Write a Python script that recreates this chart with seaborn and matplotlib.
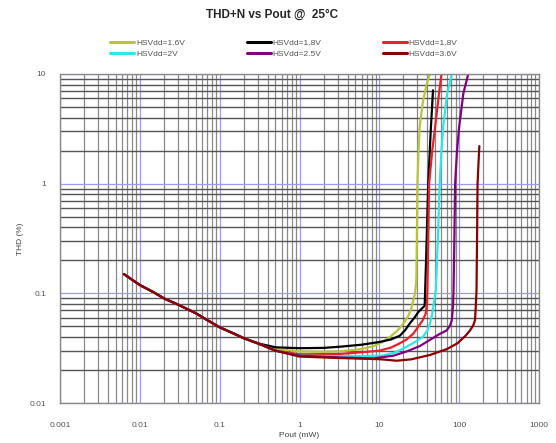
import matplotlib
matplotlib.use("Agg")
import matplotlib.pyplot as plt
import seaborn as sns
import pandas as pd

sns.set_theme(style="white")
plt.rcParams['font.family'] = ['Liberation Sans', 'DejaVu Sans']

title = "THD+N vs Pout @  25°C"
x_label = "Pout (mW)"
y_label = "THD (%)"
x_ticks = [0.001, 0.01, 0.1, 1, 10, 100, 1000]
x_tick_labels = ["0.001", "0.01", "0.1", "1", "10", "100", "1000"]
y_ticks = [0.01, 0.1, 1, 10]
y_tick_labels = ["0.01", "0.1", "1", "10"]

labels = ["HSVdd=1.6V", "HSVdd=2V", "HSVdd=1.8V", "HSVdd=2.5V", "HSVdd=1.8V", "HSVdd=3.6V"]
colors = ["#b8c43a", "#2ee6e6", "#000000", "#800080", "#e8202a", "#8b0000"]

# shared low-power segment, Pout (mW) and THD (%)
x_low = [0.0063, 0.008, 0.01, 0.015, 0.02, 0.03, 0.05, 0.07, 0.1, 0.15, 0.2, 0.3]
y_low = [0.15, 0.133, 0.119, 0.102, 0.09, 0.079, 0.066, 0.057, 0.049, 0.043, 0.039, 0.035]

x_16 = [0.5, 1, 2, 3.2, 6, 8.4, 11, 13.6, 17, 20, 23, 25, 26.7, 28, 29, 29.5, 30, 31, 32, 35, 39, 43]
y_16 = [0.031, 0.0295, 0.0293, 0.0296, 0.031, 0.033, 0.036, 0.040, 0.046, 0.053, 0.062, 0.072, 0.087, 0.1, 0.13, 0.3, 1.0, 2.0, 3.3, 5.5, 8, 10]

x_20 = [0.5, 1, 3.2, 11, 16, 22, 28, 35, 40, 43, 46, 48, 51, 54, 57, 60, 63, 71, 81]
y_20 = [0.030, 0.027, 0.0267, 0.027, 0.029, 0.0326, 0.036, 0.040, 0.046, 0.053, 0.065, 0.08, 0.107, 0.3, 1.0, 2.0, 3.3, 6.7, 10]

x_18a = [0.5, 1, 2, 3.2, 6, 10, 14, 18, 21, 24, 28, 31, 35, 37, 38.5, 41, 44, 47]
y_18a = [0.0322, 0.0316, 0.0318, 0.0326, 0.034, 0.036, 0.038, 0.041, 0.046, 0.053, 0.061, 0.068, 0.074, 0.077, 0.2, 1.0, 3.0, 7.1]

x_25 = [0.5, 1, 3.2, 8.4, 15, 22, 32, 43, 55, 70, 77, 81, 84, 85, 87, 89, 94, 100, 113, 130]
y_25 = [0.030, 0.027, 0.026, 0.0255, 0.027, 0.0295, 0.033, 0.0376, 0.042, 0.046, 0.051, 0.057, 0.08, 0.107, 0.3, 1.0, 2.0, 3.3, 6.7, 10]

x_18b = [0.5, 1, 3.2, 6, 10, 14, 18, 22, 26.7, 31, 35, 38, 39.5, 40, 41, 42, 46, 50, 56, 60]
y_18b = [0.030, 0.0278, 0.028, 0.029, 0.030, 0.032, 0.035, 0.038, 0.043, 0.050, 0.057, 0.065, 0.08, 0.107, 0.3, 1.0, 2.0, 3.3, 6.7, 10]

x_36 = [0.5, 1, 3.2, 10, 16.5, 25, 43, 70, 95, 120, 137, 150, 158, 162, 165, 168, 170, 175, 179]
y_36 = [0.030, 0.0265, 0.0257, 0.0251, 0.0243, 0.025, 0.0274, 0.031, 0.035, 0.041, 0.046, 0.051, 0.057, 0.08, 0.107, 0.4, 1.0, 1.6, 2.2]

series_x = [x_16, x_20, x_18a, x_25, x_18b, x_36]
series_y = [y_16, y_20, y_18a, y_25, y_18b, y_36]

fig = plt.figure(figsize=(5.56, 4.43), dpi=100)
ax = fig.add_axes([60/556, 1-403/443, (539-60)/556, (403-74)/443])

draw_order = [0, 2, 4, 1, 3, 5]
handles = {}
for i in draw_order:
    df = pd.DataFrame({"x": x_low + series_x[i], "y": y_low + series_y[i]})
    sns.lineplot(data=df, x="x", y="y", ax=ax, color=colors[i], lw=1.6,
                 sort=False, estimator=None, label=labels[i])
    handles[i] = ax.lines[-1]

ax.set_xscale("log")
ax.set_yscale("log")
ax.set_xlim(0.001, 1000)
ax.set_ylim(0.01, 10)
ax.set_xticks(x_ticks)
ax.set_xticklabels(x_tick_labels)
ax.set_yticks(y_ticks)
ax.set_yticklabels(y_tick_labels)

ax.xaxis.grid(True, which="minor", color="#8a8a8a", lw=0.9)
ax.yaxis.grid(True, which="minor", color="#555555", lw=1.0)
ax.grid(True, which="major", color="#9a9aee", lw=0.9)
ax.set_axisbelow(True)
ax.tick_params(axis="y", which="both", length=0, labelsize=6, colors="#555555", pad=10)
ax.tick_params(axis="x", which="both", length=0, labelsize=6, colors="#555555", pad=14)
for s in ax.spines.values():
    s.set_color("#888888")
    s.set_linewidth(1.0)

ax.set_xlabel(x_label, fontsize=6, color="#444444", labelpad=2)
ax.set_ylabel(y_label, fontsize=6, color="#444444", labelpad=4)

leg = ax.legend([handles[i] for i in range(6)], labels, ncol=3, loc="lower left",
                bbox_to_anchor=(0.098, 1.04), frameon=False, fontsize=6,
                handlelength=2.9, handletextpad=0.2, columnspacing=7.4,
                labelspacing=0.35, borderaxespad=0)
for t in leg.get_texts():
    t.set_color("#555555")
for l in leg.get_lines():
    l.set_linewidth(2.2)

fig.text(0.49, 1-15/443, title, ha="center", va="center", fontsize=8.5, fontweight="bold")

fig.savefig("out.png", dpi=100, facecolor="white")
